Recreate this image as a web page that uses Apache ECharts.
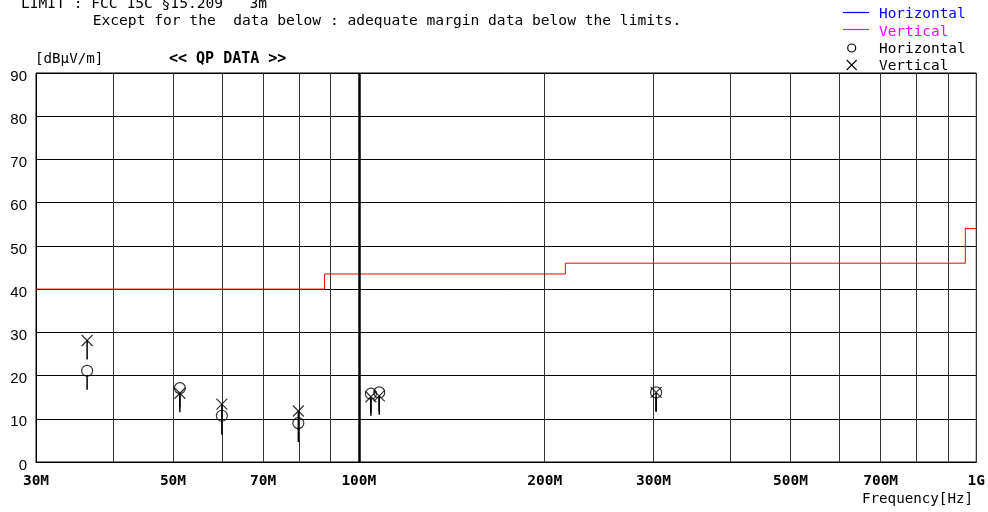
<!DOCTYPE html>
<html><head><meta charset="utf-8">
<script src="https://cdn.jsdelivr.net/npm/echarts@6/dist/echarts.min.js"></script>
<style>html,body{margin:0;padding:0;background:#fff}#c{width:988px;height:512px}</style>
</head><body><div id="c"></div>
<script>
// ---- data ----
const gridFreqs = [30,40,50,60,70,80,90,100,200,300,400,500,600,700,800,900,1000];
const labelFreqs = [30,50,70,100,200,300,500,700,1000];
const limitFreq = [30,88,88,216,216,960,960,1000];
const limitLevel = [40,40,43.5,43.5,46,46,54,54];
const qpFreq = [36.3,51.3,60.0,79.8,104.6,107.9,303];
const qpHorizontal = [21.1,17.1,10.7,9.0,15.8,16.1,16.1];
const qpVertical = [28.1,15.9,13.4,11.8,15.1,15.3,16.1];

const MONO = '"DejaVu Sans Mono", "Liberation Mono", monospace';
const zip = (a,b) => a.map((v,i)=>[v,b[i]]);

function stem(offset){
  return function(params, api){
    const p = api.coord([api.value(0), api.value(1)]);
    return {type:'line', shape:{x1:p[0], y1:p[1]+offset, x2:p[0], y2:p[1]+19},
            style:{stroke:'#000', lineWidth:1.5}};
  };
}

const chart = echarts.init(document.getElementById('c'), null, {renderer:'canvas'});
chart.setOption({
  animation:false,
  backgroundColor:'#fff',
  grid:{left:36, right:11, top:73, bottom:50, show:true, borderColor:'#000', borderWidth:1, backgroundColor:'transparent'},
  xAxis:{
    type:'log', logBase:10, min:30, max:1000,
    axisLine:{show:true, onZero:false, lineStyle:{color:'#000', width:1}},
    axisTick:{show:false, customValues:gridFreqs},
    splitLine:{show:true, lineStyle:{color:'#333', width:1}},
    minorSplitLine:{show:false},
    axisLabel:{
      customValues:labelFreqs, showMinLabel:true, showMaxLabel:true,
      formatter:function(v){ v=Math.round(v); return v>=1000 ? '1G' : v+'M'; },
      color:'#000', fontSize:14.5, fontWeight:'bold',
      fontFamily:MONO,
      margin:12
    }
  },
  yAxis:{
    type:'value', min:0, max:90, interval:10,
    axisLine:{show:true, lineStyle:{color:'#000', width:1}},
    axisTick:{show:false},
    splitLine:{show:true, lineStyle:{color:'#000', width:1}},
    axisLabel:{color:'#000', fontSize:15, fontFamily:'"Liberation Sans", Arial, sans-serif', margin:9,
      verticalAlign:'top', lineHeight:7}
  },
  graphic:[
    {type:'text', x:21, y:4, style:{text:'LIMIT : FCC 15C §15.209   3m', font:'14.6px '+MONO, fill:'#000', verticalAlign:'middle'}},
    {type:'text', x:92.7, y:21, style:{text:'Except for the  data below : adequate margin data below the limits.', font:'14.6px '+MONO, fill:'#000', verticalAlign:'middle'}},
    {type:'text', x:35, y:59.5, style:{text:'[dBµV/m]', font:'14.2px '+MONO, fill:'#000', verticalAlign:'middle'}},
    {type:'text', x:169, y:59.5, style:{text:'<< QP DATA >>', font:'bold 15px '+MONO, fill:'#000', verticalAlign:'middle'}},
    {type:'line', shape:{x1:843, y1:12.5, x2:869, y2:12.5}, style:{stroke:'#0000ff', lineWidth:1.2}},
    {type:'text', x:879, y:14.5, style:{text:'Horizontal', font:'14.4px '+MONO, fill:'#0000ff', verticalAlign:'middle'}},
    {type:'line', shape:{x1:843, y1:29.5, x2:869, y2:29.5}, style:{stroke:'#ff00ff', lineWidth:1.2}},
    {type:'text', x:879, y:32, style:{text:'Vertical', font:'14.4px '+MONO, fill:'#ff00ff', verticalAlign:'middle'}},
    {type:'circle', shape:{cx:851.7, cy:48, r:4}, style:{fill:'none', stroke:'#000', lineWidth:1.2}},
    {type:'text', x:879, y:49.5, style:{text:'Horizontal', font:'14.4px '+MONO, fill:'#000', verticalAlign:'middle'}},
    {type:'line', shape:{x1:846.7, y1:60, x2:856.7, y2:70}, style:{stroke:'#000', lineWidth:1.1}},
    {type:'line', shape:{x1:856.7, y1:60, x2:846.7, y2:70}, style:{stroke:'#000', lineWidth:1.1}},
    {type:'text', x:879, y:66.5, style:{text:'Vertical', font:'14.4px '+MONO, fill:'#000', verticalAlign:'middle'}},
    {type:'text', x:973, y:499, style:{text:'Frequency[Hz]', font:'14.2px '+MONO, fill:'#000', align:'right', verticalAlign:'middle'}}
  ],
  series:[
    {
      name:'Limit', type:'line', data:zip(limitFreq, limitLevel), showSymbol:false, symbol:'none',
      lineStyle:{color:'#ff0000', width:1}, silent:true, z:3,
      markLine:{silent:true, symbol:'none', label:{show:false},
        lineStyle:{color:'#000', width:2.5, type:'solid'}, data:[{xAxis:100}]}
    },
    {name:'stemH', type:'custom', data:zip(qpFreq, qpHorizontal), renderItem:stem(5.5), silent:true, z:4},
    {name:'stemV', type:'custom', data:zip(qpFreq, qpVertical), renderItem:stem(0), silent:true, z:4},
    {
      name:'Horizontal', type:'scatter', data:zip(qpFreq, qpHorizontal), symbol:'circle', symbolSize:11,
      itemStyle:{color:'transparent', borderColor:'#000', borderWidth:1.2}, z:5, silent:true
    },
    {
      name:'Vertical', type:'scatter', data:zip(qpFreq, qpVertical), symbol:'path://M0,0L10,10M10,0L0,10', symbolSize:11,
      itemStyle:{color:'none', borderColor:'#000', borderWidth:1.2}, z:5, silent:true
    }
  ]
});
</script></body></html>
